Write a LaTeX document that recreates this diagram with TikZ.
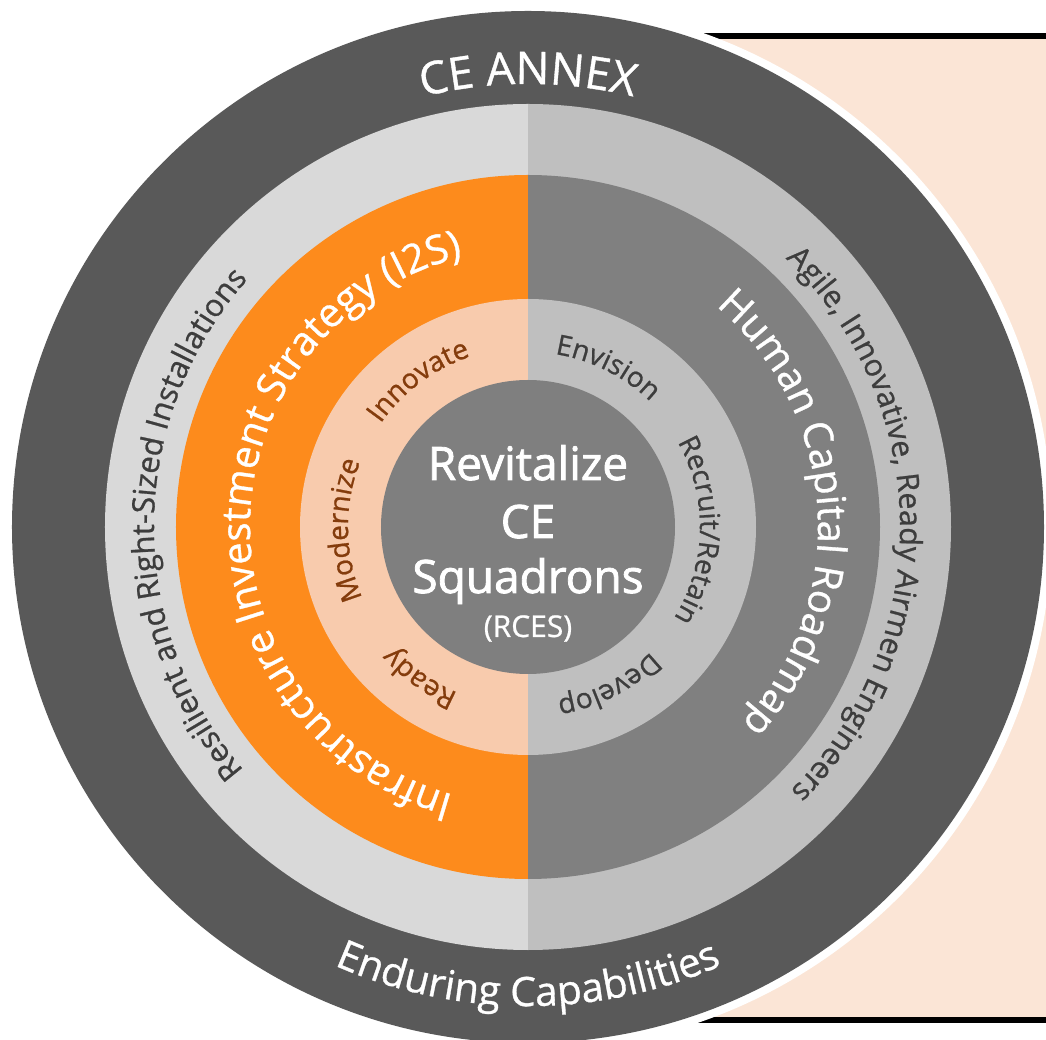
\documentclass[tikz,border=0pt]{standalone}
\usepackage{fontspec}
\setmainfont{Open Sans}[FakeBold=0.8]
\newfontfamily\semib{Open Sans}[FakeBold=1.8]
\usetikzlibrary{decorations.text}
\definecolor{ringdark}{HTML}{595959}
\definecolor{lightL}{HTML}{D9D9D9}
\definecolor{lightR}{HTML}{BFBFBF}
\definecolor{orangeL}{HTML}{FD8B1C}
\definecolor{midR}{HTML}{808080}
\definecolor{peachL}{HTML}{F8CBAD}
\definecolor{innerR}{HTML}{BFBFBF}
\definecolor{centerc}{HTML}{7F7F7F}
\definecolor{peachbg}{HTML}{FBE5D6}
\definecolor{browntxt}{HTML}{843C0C}
\definecolor{darktxt}{HTML}{3D3D3D}
% clockwise arc text (tops outward): radius, centre angle, half span, colour, size, text
\newcommand\arctextcw[6]{%
  \path[decorate,decoration={text along path,text align=center,text color=#4,
    text={|\fontsize{#5}{#5}\selectfont|#6}}]
    ({#2+#3}:#1pt) arc[start angle={#2+#3},end angle={#2-#3},radius=#1pt];}
% counter-clockwise arc text (tops inward)
\newcommand\arctextccw[6]{%
  \path[decorate,decoration={text along path,text align=center,text color=#4,
    text={|\fontsize{#5}{#5}\selectfont|#6}}]
    ({#2-#3}:#1pt) arc[start angle={#2-#3},end angle={#2+#3},radius=#1pt];}
\tikzset{centertxt/.style={text=white,anchor=base,inner sep=0pt}}
\begin{document}
\begin{tikzpicture}
\useasboundingbox (-528pt,-513pt) rectangle (518pt,527pt);
% background panel on the right
\fill[peachbg] (150pt,491pt) rectangle (540pt,-493pt);
\draw[black,line width=6pt] (150pt,491pt) -- (540pt,491pt);
\draw[black,line width=6pt] (150pt,-493pt) -- (540pt,-493pt);
% white rim and outer ring
\fill[white] (0pt,0pt) circle[radius=524pt];
\fill[ringdark] (0pt,0pt) circle[radius=516pt];
% light ring
\fill[lightL] (90:423pt) arc[start angle=90,end angle=270,radius=423pt] -- cycle;
\fill[lightR] (90:423pt) arc[start angle=90,end angle=-90,radius=423pt] -- cycle;
% orange / gray ring
\fill[orangeL] (90:352pt) arc[start angle=90,end angle=270,radius=352pt] -- cycle;
\fill[midR] (90:352pt) arc[start angle=90,end angle=-90,radius=352pt] -- cycle;
% inner ring
\fill[peachL] (90:228pt) arc[start angle=90,end angle=270,radius=228pt] -- cycle;
\fill[innerR] (90:228pt) arc[start angle=90,end angle=-90,radius=228pt] -- cycle;
% centre
\fill[centerc] (0pt,0pt) circle[radius=147pt];
% outer ring texts
\arctextcw{443}{90}{45}{white}{45}{CE ANNEX}
\arctextccw{479}{270}{45}{white}{40.5}{Enduring Capabilities}
% light ring texts
\arctextcw{374}{179.5}{65}{darktxt}{31}{Resilient and Right-Sized Installations}
\arctextcw{372}{0.5}{65}{darktxt}{30.5}{Agile, Innovative, Ready Airmen Engineers}
% orange / gray ring texts
\arctextcw{278}{179}{100}{white}{40}{Infrastructure Investment Strategy (I2S)}
\arctextcw{290}{3.5}{75}{white}{40}{Human Capital Roadmap}
% inner ring texts
\arctextcw{180}{126.8}{40}{browntxt}{28}{Innovate}
\arctextcw{180}{181}{40}{browntxt}{28}{Modernize}
\arctextcw{180}{234.4}{40}{browntxt}{28}{Ready}
\arctextcw{175}{63.4}{40}{darktxt}{28}{Envision}
\arctextcw{172}{-1.2}{50}{darktxt}{28}{Recruit/Retain}
\arctextcw{175}{-62.9}{40}{darktxt}{28}{Develop}
% centre texts
\node[centertxt,font=\semib\fontsize{46}{46}\selectfont] (rev) at (0pt,47pt) {Revitalize};
\node[centertxt,font=\semib\fontsize{46}{46}\selectfont] (ce) at (0pt,-11pt) {CE};
\node[centertxt,font=\semib\fontsize{46}{46}\selectfont] (squ) at (0pt,-66pt) {Squadrons};
\node[centertxt,font=\fontsize{30}{30}\selectfont] (rces) at (0pt,-110pt) {(RCES)};
\end{tikzpicture}
\end{document}
